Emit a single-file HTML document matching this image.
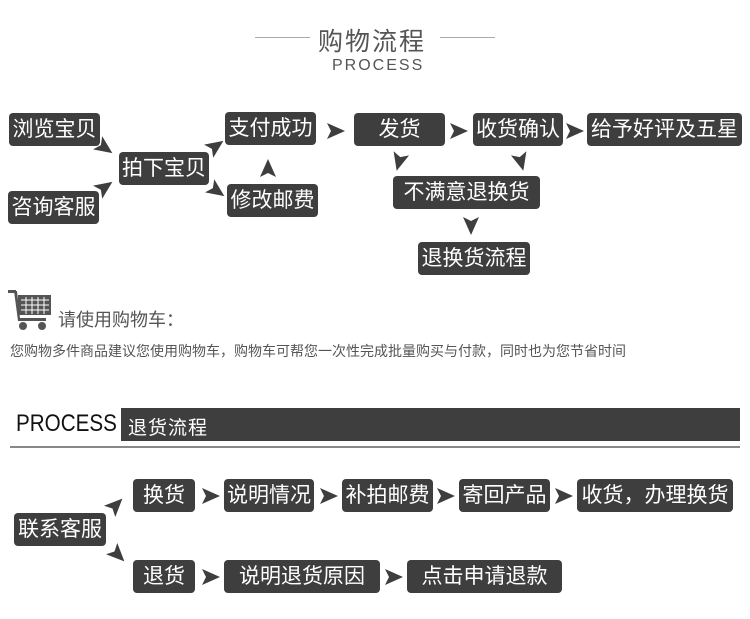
<!DOCTYPE html>
<html><head><meta charset="utf-8"><style>
body{margin:0;width:750px;height:619px;background:#fff;position:relative;overflow:hidden;font-family:"Liberation Sans","Noto Sans CJK SC",sans-serif}
.b{position:absolute;background:#3e3e3e;color:#fff;border-radius:4px;font-size:21px;line-height:34px;height:33px;text-align:center;white-space:nowrap;letter-spacing:0px}
.t{position:absolute;white-space:nowrap}
svg{position:absolute;left:0;top:0}
</style></head><body>
<div style="position:absolute;left:255px;top:37px;width:55px;height:1px;background:#aaa"></div>
<div style="position:absolute;left:440px;top:37px;width:55px;height:1px;background:#aaa"></div>
<div class="t" style="left:318px;top:22px;font-size:25px;color:#555;letter-spacing:2px">购物流程</div>
<div class="t" style="left:332px;top:57px;font-size:16px;color:#555;letter-spacing:2px">PROCESS</div>

<div class="b" style="left:9px;top:113px;width:91px">浏览宝贝</div>
<div class="b" style="left:8px;top:191px;width:91px">咨询客服</div>
<div class="b" style="left:119px;top:152px;width:90px">拍下宝贝</div>
<div class="b" style="left:225px;top:112px;width:91px">支付成功</div>
<div class="b" style="left:227px;top:184px;width:91px">修改邮费</div>
<div class="b" style="left:354px;top:113px;width:91px">发货</div>
<div class="b" style="left:473px;top:113px;width:90px">收货确认</div>
<div class="b" style="left:587px;top:113px;width:155px">给予好评及五星</div>
<div class="b" style="left:393px;top:176px;width:147px">不满意退换货</div>
<div class="b" style="left:418px;top:242px;width:112px">退换货流程</div>

<svg width="750" height="619">
<defs><polygon id="a" points="-9,-8 9,0 -9,8 -5,0" fill="#3e3e3e"/></defs>
<use href="#a" transform="translate(105,148) rotate(35)"/>
<use href="#a" transform="translate(105,187) rotate(-35)"/>
<use href="#a" transform="translate(216,146) rotate(-35)"/>
<use href="#a" transform="translate(217,191) rotate(35)"/>
<use href="#a" transform="translate(268,168) rotate(-90)"/>
<use href="#a" transform="translate(336,131)"/>
<use href="#a" transform="translate(459,131)"/>
<use href="#a" transform="translate(575,131)"/>
<use href="#a" transform="translate(399,162) rotate(105)"/>
<use href="#a" transform="translate(521,162) rotate(75)"/>
<use href="#a" transform="translate(471,226) rotate(90)"/>
<use href="#a" transform="translate(116,505) rotate(-45)"/>
<use href="#a" transform="translate(118,555) rotate(45)"/>
<use href="#a" transform="translate(211,496)"/>
<use href="#a" transform="translate(329,496)"/>
<use href="#a" transform="translate(446,496)"/>
<use href="#a" transform="translate(564,496)"/>
<use href="#a" transform="translate(211,577)"/>
<use href="#a" transform="translate(394,577)"/>
<g fill="#555">
<rect x="8" y="290" width="8" height="3"/>
<polygon points="14,291 17,291 20,318 46,318 46,321 18,321"/>
<rect x="18" y="295" width="33" height="20"/>
<circle cx="23" cy="326" r="4"/><circle cx="42" cy="326" r="4"/>
</g>
<g stroke="#fff" stroke-width="1">
<line x1="21" y1="300" x2="49" y2="300"/><line x1="21" y1="305" x2="49" y2="305"/><line x1="21" y1="310" x2="49" y2="310"/>
<line x1="26" y1="297" x2="26" y2="314"/><line x1="32" y1="297" x2="32" y2="314"/><line x1="38" y1="297" x2="38" y2="314"/><line x1="44" y1="297" x2="44" y2="314"/>
</g>
</svg>
<div class="t" style="left:58px;top:306px;font-size:18px;color:#555">请使用购物车：</div>
<div class="t" style="left:10px;top:341px;font-size:14px;color:#555">您购物多件商品建议您使用购物车，购物车可帮您一次性完成批量购买与付款，同时也为您节省时间</div>

<div class="t" style="left:16px;top:410px;font-size:24px;color:#111;transform:scaleX(0.86);transform-origin:0 0">PROCESS</div>
<div style="position:absolute;left:121px;top:408px;width:619px;height:33px;background:#3e3e3e"></div>
<div class="t" style="left:128px;top:413px;font-size:19px;color:#fff;letter-spacing:1px">退货流程</div>
<div style="position:absolute;left:10px;top:446px;width:730px;height:2px;background:#888"></div>

<div class="b" style="left:14px;top:513px;width:92px">联系客服</div>
<div class="b" style="left:133px;top:479px;width:62px">换货</div>
<div class="b" style="left:224px;top:479px;width:90px">说明情况</div>
<div class="b" style="left:342px;top:479px;width:91px">补拍邮费</div>
<div class="b" style="left:459px;top:479px;width:91px">寄回产品</div>
<div class="b" style="left:577px;top:479px;width:156px">收货，办理换货</div>
<div class="b" style="left:133px;top:560px;width:62px">退货</div>
<div class="b" style="left:224px;top:560px;width:156px">说明退货原因</div>
<div class="b" style="left:407px;top:560px;width:155px">点击申请退款</div>
</body></html>
